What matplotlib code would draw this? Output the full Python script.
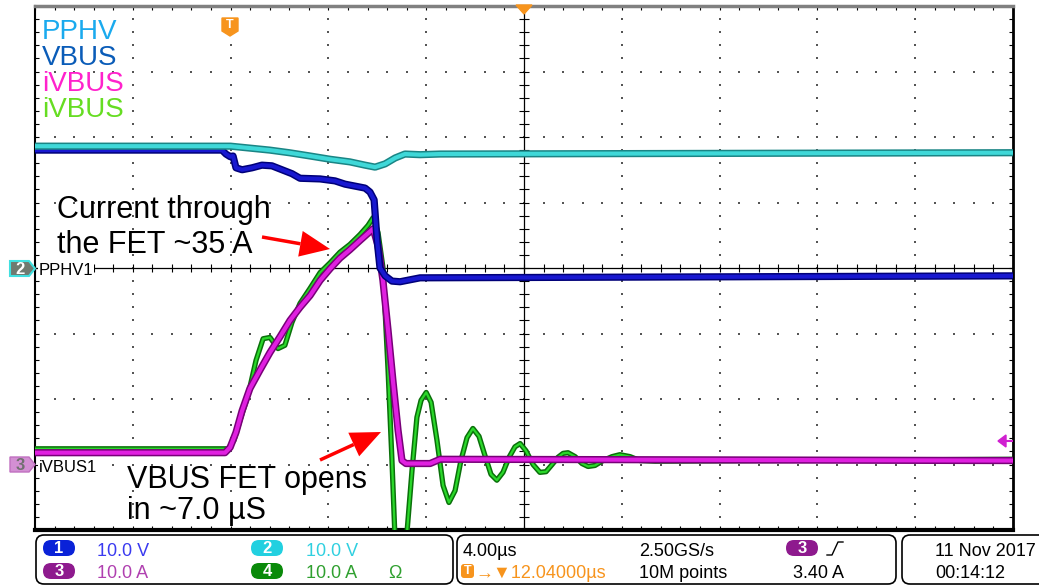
import numpy as np
import matplotlib
matplotlib.use("Agg")
import matplotlib.pyplot as plt
import matplotlib.patheffects as pe
from matplotlib.patches import Polygon, FancyBboxPatch

plt.rcParams['font.family'] = ['Liberation Sans', 'DejaVu Sans']

# ---- trace data (time in us, values in V / A) ----
t_pphv = [-20, -12.0, -11.2, -10.4, -9.6, -8.75, -7.93, -7.12, -6.5, -6.09, -5.68, -5.27, -4.87, -4.25, -3.43, 20]
v_pphv = [18.6, 18.6, 18.3, 18.0, 17.6, 17.1, 16.6, 16.2, 15.7, 15.4, 15.9, 16.8, 17.4, 17.3, 17.4, 17.6]

t_vbus = [-20, -12.35, -12.19, -12.02, -11.9, -11.78, -11.53, -11.12, -10.72, -10.31, -9.9, -9.49, -9.16,
          -8.34, -7.73, -7.32, -6.91, -6.5, -6.3, -6.13, -6.01, -5.89, -5.68, -5.4, -5.07, -4.66, -4.25, 20]
v_vbus = [18.0, 18.0, 17.4, 17.0, 17.1, 15.3, 15.0, 15.3, 15.7, 15.6, 15.0, 14.4, 13.7,
          13.6, 13.3, 12.8, 12.5, 12.2, 11.6, 10.4, 4.3, 0.0, -1.2, -2.0, -2.1, -1.8, -1.5, -1.2]

t_ivbus3 = [-20, -12.23, -12.02, -11.78, -11.53, -11.21, -10.8, -10.39, -9.98, -9.57, -9.16, -8.75, -8.34,
            -7.93, -7.53, -7.12, -6.71, -6.38, -6.17, -5.97, -5.77, -5.56, -5.36, -5.15, -4.99, -4.83,
            -3.84, -3.43, 20]
i_ivbus3 = [1.8, 1.8, 2.6, 4.9, 8.2, 11.6, 14.4, 17.1, 19.5, 22.0, 24.0, 25.8, 28.1,
            29.9, 31.5, 32.8, 34.2, 35.3, 36.0, 33.4, 28.1, 20.5, 12.8, 5.2, 0.6, 0.15,
            0.15, 0.8, 0.6]

t_ivbus4 = [-20, -12.1, -11.86, -11.62, -11.29, -10.96, -10.67, -10.39, -10.06, -9.78, -9.49, -9.16, -8.75,
            -8.34, -7.93, -7.53, -7.12, -6.71, -6.38, -6.17, -5.97, -5.77, -5.56, -5.4, -5.24, -4.99,
            -4.78, -4.58, -4.38, -4.21, -4.0, -3.8, -3.56, -3.31, -3.07, -2.82, -2.58, -2.33, -2.09,
            -1.84, -1.6, -1.35, -1.11, -0.86, -0.61, -0.37, -0.16, 0.08, 0.37, 0.65, 0.9, 1.15, 1.39,
            1.6, 1.8, 2.09, 2.37, 2.62, 2.9, 3.23, 3.6, 3.92, 4.34, 4.74, 5.36, 20]
i_ivbus4 = [2.4, 2.4, 3.7, 6.7, 10.5, 15.9, 19.2, 19.4, 17.7, 18.2, 21.7, 24.6, 26.9,
            29.3, 30.8, 32.4, 33.6, 35.1, 36.5, 37.7, 35.4, 30.1, 14.4, 0.6, -14.7, -15.4,
            -10.1, -0.9, 7.2, 9.8, 11.0, 9.5, 3.7, -3.2, -5.8, -4.0, 0.6, 4.1, 5.5,
            4.3, 1.4, -1.5, -2.4, -1.2, 1.1, 2.7, 3.2, 2.1, 0.0, -1.2, -1.1, 0.0, 1.1,
            1.7, 1.8, 1.2, 0.15, -0.3, -0.15, 0.6, 1.2, 1.5, 1.2, 0.6, 0.5, 0.8]

us_per_div = 4.0
scale = 10.0          # 10 V/div, 10 A/div
offset_v = 0.0        # ch1/ch2 ground (divisions)
offset_i = -3.0       # ch3/ch4 ground (divisions)

fig = plt.figure(figsize=(10.39, 5.87), dpi=100)
ax = fig.add_axes([35 / 1039, 57 / 587, 978 / 1039, 524 / 587])
ax.set_xlim(-5, 5)
ax.set_ylim(-4, 4)

# graticule
minor_x = np.arange(-5, 5.001, 0.2)
minor_y = np.arange(-4, 4.001, 0.2)
gx, gy = [], []
for xv in range(-4, 5):
    if xv != 0:
        gx += [xv] * len(minor_y)
        gy += list(minor_y)
for yv in range(-3, 4):
    if yv != 0:
        gx += list(minor_x)
        gy += [yv] * len(minor_x)
ax.scatter(gx, gy, s=1.6, marker='s', color='#555555', lw=0, zorder=1)
ax.axhline(0, color='black', lw=0.9, zorder=1)
ax.axvline(0, color='black', lw=0.9, zorder=1)
ax.plot(np.zeros(len(minor_y)), minor_y, ls='none', marker='_', ms=7, mew=0.8, color='black', zorder=1)
ax.plot(minor_x, np.zeros(len(minor_x)), ls='none', marker='|', ms=6, mew=0.8, color='black', zorder=1)

ax.set_xticks(range(-5, 6))
ax.set_yticks(range(-4, 5))
ax.set_xticks(minor_x, minor=True)
ax.set_yticks(minor_y, minor=True)
ax.tick_params(which='both', direction='in', top=True, right=True, length=3, width=0.8,
               labelbottom=False, labelleft=False)
ax.spines['left'].set_linewidth(1.5)
ax.spines['top'].set_color('#808080')
ax.spines['top'].set_linewidth(2.5)
ax.spines['bottom'].set_linewidth(3)
ax.spines['right'].set_linewidth(2)


def trace(t, v, off, color, dark, lw, z):
    ax.plot(np.array(t) / us_per_div, np.array(v) / scale + off, color=color, lw=lw,
            solid_joinstyle='round', zorder=z,
            path_effects=[pe.Stroke(linewidth=lw + 2.2, foreground=dark), pe.Normal()])


trace(t_ivbus4, i_ivbus4, offset_i, '#2ad82a', '#0a700a', 1.6, 3)
trace(t_ivbus3, i_ivbus3, offset_i, '#e020e0', '#780078', 3.0, 4)
trace(t_vbus, v_vbus, offset_v, '#1818d0', '#000078', 3.0, 5)
trace(t_pphv, v_pphv, offset_v, '#3fd8d8', '#1a8585', 3.0, 6)

# ---- overlay in pixel coordinates ----
ov = fig.add_axes([0, 0, 1, 1], zorder=10)
ov.set_xlim(0, 1039)
ov.set_ylim(587, 0)
ov.axis('off')

# channel names
names = ['PPHV', 'VBUS', 'iVBUS', 'iVBUS']
name_colors = ['#1aaaee', '#0a5cb8', '#ff22cc', '#66dd22']
name_base = [39, 65, 91, 117]
for nm, c, yb in zip(names, name_colors, name_base):
    ov.text(42, yb, nm, color=c, fontsize=20, va='baseline')

# annotations
ov.text(57, 218, 'Current through', fontsize=22, va='baseline')
ov.text(57, 253, 'the FET ~35 A', fontsize=22, va='baseline')
ov.text(127, 488, 'VBUS FET opens', fontsize=22, va='baseline')
ov.text(127, 519, 'in ~7.0 µS', fontsize=22, va='baseline')


def arrow(x0, y0, x1, y1):
    d = np.array([x1 - x0, y1 - y0], float)
    d /= np.hypot(*d)
    n = np.array([-d[1], d[0]])
    base = np.array([x1, y1]) - 30 * d
    ov.plot([x0, base[0]], [y0, base[1]], color='#ff0000', lw=2.5, solid_capstyle='butt')
    ov.add_patch(Polygon([(x1, y1), base + 13 * n, base - 13 * n], closed=True, color='#ff0000', lw=0))


arrow(262, 237, 330, 249)
arrow(320, 460, 381, 432)

# ground markers on the left
ov.add_patch(Polygon([(10, 261), (29, 261), (35, 268.5), (29, 276), (10, 276)], closed=True,
                     fc='#6f7a70', ec='#40e0e0', lw=1.5))
ov.text(20, 269, '2', color='white', fontsize=12, fontweight='bold', ha='center', va='center')
ov.add_patch(Polygon([(10, 457), (29, 457), (35, 464.5), (29, 472), (10, 472)], closed=True,
                     fc='#d38fd3', ec='#c070c0', lw=1))
ov.text(20, 465, '3', color='#707070', fontsize=12, fontweight='bold', ha='center', va='center')
ov.text(39, 275, 'PPHV1', fontsize=12, va='baseline', family=['Liberation Sans Narrow', 'Liberation Sans'],
        bbox=dict(fc='white', ec='none', pad=0.5))
ov.text(39, 472, 'iVBUS1', fontsize=12, va='baseline', family=['Liberation Sans Narrow', 'Liberation Sans'],
        bbox=dict(fc='white', ec='none', pad=0.5))

# trigger markers
orange = '#f7941d'
ov.add_patch(Polygon([(222, 18), (238, 18), (238, 31), (230, 36), (222, 31)], closed=True, color=orange))
ov.text(230, 25, 'T', color='white', fontsize=9, fontweight='bold', ha='center', va='center')
ov.add_patch(Polygon([(516, 5), (532, 5), (524, 14)], closed=True, color=orange))
ov.add_patch(Polygon([(998, 441), (1006, 435), (1006, 447)], closed=True, color='#d020d0'))
ov.plot([1005, 1012], [441, 441], color='#d020d0', lw=1.5)

# status bar
for x0, w in [(36, 417), (457, 439), (902, 150)]:
    ov.add_patch(FancyBboxPatch((x0, 535), w, 49, boxstyle='round,pad=0,rounding_size=8',
                                fc='none', ec='black', lw=1.2))


def badge(x, y, num, fc, tc='white'):
    ov.add_patch(FancyBboxPatch((x, y), 32, 16, boxstyle='round,pad=0,rounding_size=8', fc=fc, ec='none'))
    ov.text(x + 16, y + 8.5, num, color=tc, fontsize=12, fontweight='bold', ha='center', va='center')


badge(43, 540, '1', '#0a22d8')
badge(251, 540, '2', '#22d0e0')
badge(43, 563, '3', '#8e1a8e')
badge(251, 563, '4', '#0a8a0a')
badge(786, 540, '3', '#8e1a8e')

fs = 13
ov.text(97, 556, '10.0 V', color='#3a3af0', fontsize=fs, va='baseline')
ov.text(306, 556, '10.0 V', color='#30d0e0', fontsize=fs, va='baseline')
ov.text(97, 578, '10.0 A', color='#b040b0', fontsize=fs, va='baseline')
ov.text(306, 578, '10.0 A', color='#30a030', fontsize=fs, va='baseline')
ov.text(388, 578, 'Ω', color='#30a030', fontsize=fs, va='baseline')

ov.text(463, 556, '4.00µs', color='black', fontsize=fs, va='baseline')
ov.add_patch(FancyBboxPatch((461, 564), 13, 14, boxstyle='round,pad=0,rounding_size=3', fc=orange, ec='none'))
ov.text(467.5, 571.5, 'T', color='white', fontsize=9, fontweight='bold', ha='center', va='center')
ov.text(475, 578, '→▼12.04000µs', color=orange, fontsize=fs, va='baseline')
ov.text(639, 556, '2.50GS/s', color='black', fontsize=fs, va='baseline')
ov.text(639, 578, '10M points', color='black', fontsize=fs, va='baseline')
ov.plot([827, 832, 838, 843], [555, 555, 542, 542], color='black', lw=1)
ov.text(793, 578, '3.40 A', color='black', fontsize=fs, va='baseline')
ov.text(935, 556, '11 Nov 2017', color='black', fontsize=fs, va='baseline')
ov.text(935, 578, '00:14:12', color='black', fontsize=fs, va='baseline')

fig.savefig('out.png', dpi=100)
